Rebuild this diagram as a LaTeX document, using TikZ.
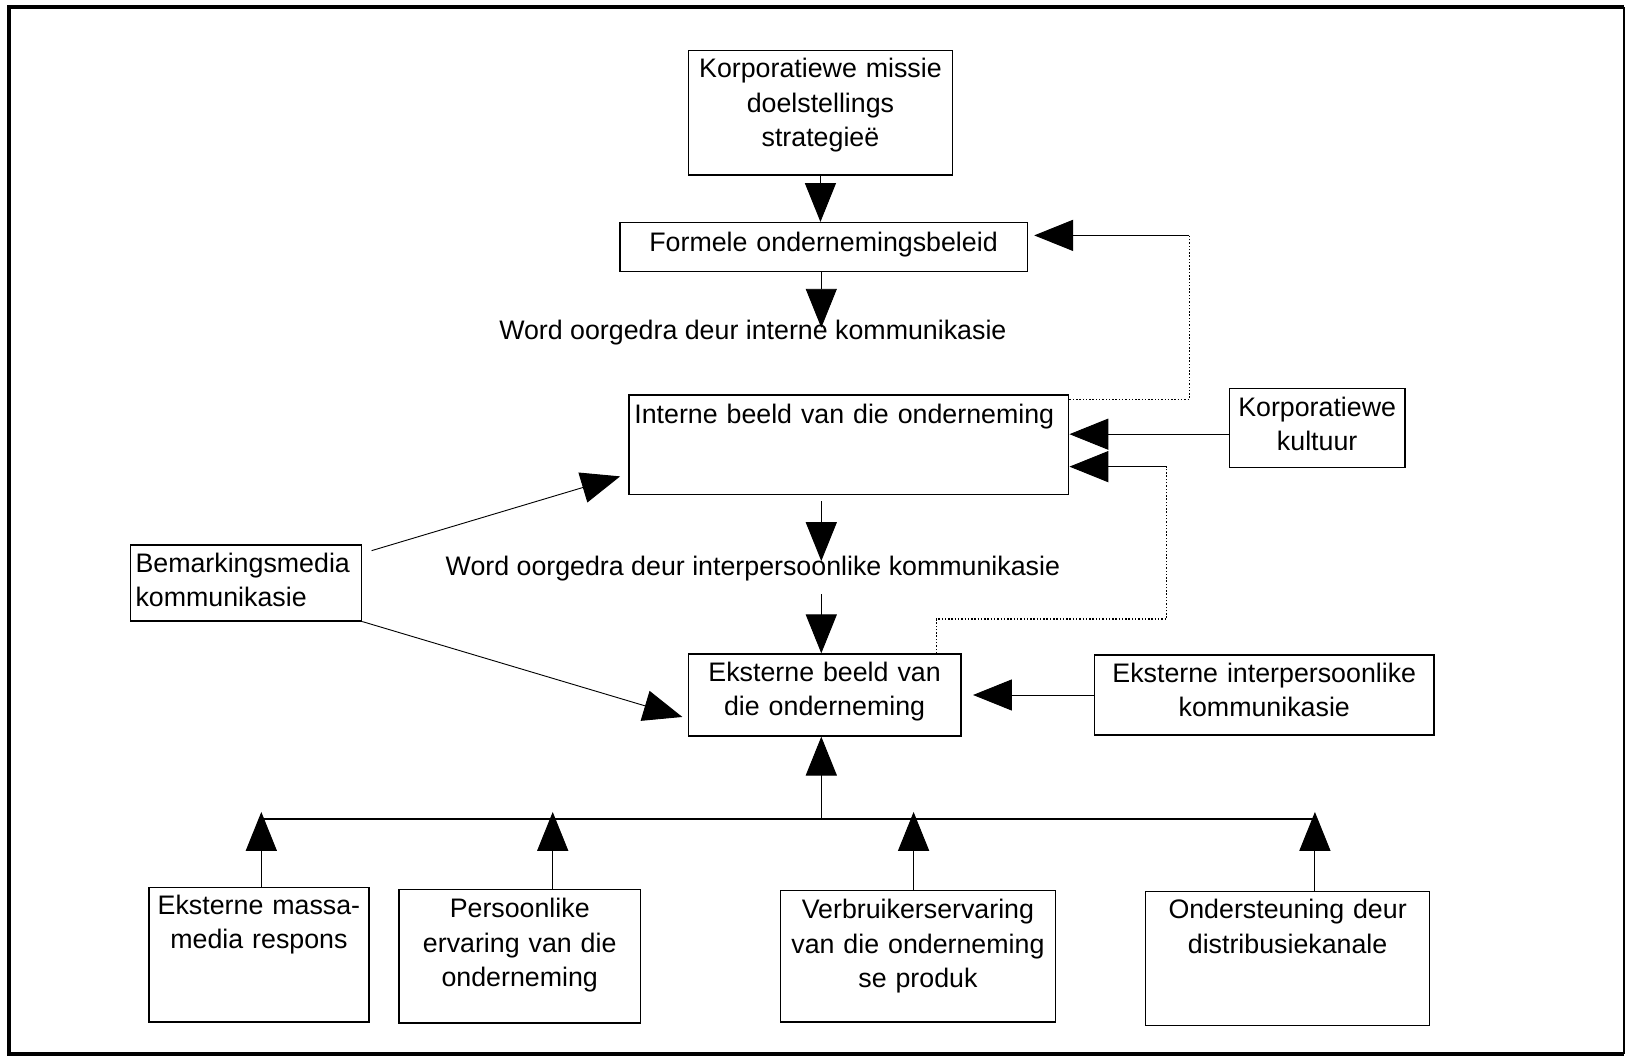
\documentclass[tikz,border=0pt]{standalone}
\usepackage{fontspec}
\setmainfont{Liberation Sans}
\usetikzlibrary{arrows.meta,calc}

\begin{document}
\begin{tikzpicture}[
  x=0.02cm, y=-0.02cm,
  every node/.style={font=\fontsize{14.7}{18.7}\selectfont},
  box/.style={draw, line width=0.8pt, anchor=north west, align=center,
              inner xsep=0pt, inner ysep=0pt},
  arr/.style={line width=0.5pt, -{Triangle[length=0.75cm, width=0.6cm]}},
  fb/.style={line width=0.8pt, densely dotted}
]

%% ---- Frame ---------------------------------------------------------
\useasboundingbox (0,0) rectangle (1568,1020);
\draw[line width=0.08cm] (1566,1016) -- (9,1016) -- (9,7) -- (1566,7);
\draw[line width=0.8pt] (1566,7) -- (1566,1016);

%% ---- Boxes (top and middle) ----------------------------------------
\node[box, text width=5.10cm, text height=0.53cm, text depth=1.87cm]
     (missie) at (663,48) {Korporatiewe missie\\doelstellings\\strategieë};
\node[box, text width=7.86cm, text height=0.55cm, text depth=0.39cm]
     (beleid) at (597,214) {Formele ondernemingsbeleid};
\node (oorgedraA) at (726,321) {Word oorgedra deur interne kommunikasie};
\node[box, align=left, inner xsep=0.1cm, text width=8.28cm,
      text height=0.55cm, text depth=1.37cm]
     (interne) at (606,380) {Interne beeld van die onderneming};
\node[box, text width=3.38cm, text height=0.53cm, text depth=0.99cm]
     (kultuur) at (1185,374) {Korporatiewe\\kultuur};
\node (oorgedraB) at (726,548) {Word oorgedra deur interpersoonlike kommunikasie};
\node[box, align=left, inner xsep=0.1cm, text width=4.26cm,
      text height=0.53cm, text depth=0.93cm]
     (bemark) at (125,525) {Bemarkingsmedia\\kommunikasie};
\node[box, text width=5.26cm, text height=0.53cm, text depth=1.05cm]
     (ekstern) at (663,630) {Eksterne beeld van\\die onderneming};
\node[box, text width=6.54cm, text height=0.53cm, text depth=1.01cm]
     (eksInter) at (1055,631) {Eksterne interpersoonlike\\kommunikasie};

%% ---- Boxes (bottom row) --------------------------------------------
\node[box, text width=4.24cm, text height=0.53cm, text depth=2.07cm]
     (massa) at (143,855) {Eksterne massa-\\media respons};
\node[box, text width=4.66cm, text height=0.55cm, text depth=2.03cm]
     (persoon) at (384,857) {Persoonlike\\ervaring van die\\onderneming};
\node[box, text width=5.30cm, text height=0.55cm, text depth=1.99cm]
     (verbruik) at (752,858) {Verbruikerservaring\\van die onderneming\\se produk};
\node[box, text width=5.48cm, text height=0.53cm, text depth=2.05cm]
     (distrib) at (1104,859) {Ondersteuning deur\\distribusiekanale};

%% ---- Main spine ----------------------------------------------------
\draw[arr] (missie.south) -- (missie.south |- beleid.north);
\coordinate (tipA) at (792,316);
\draw[arr] (beleid.south -| tipA) -- (tipA);
\coordinate (tipB) at (792,541);
\draw[arr] ([yshift=-0.12cm]interne.south -| tipB) -- (tipB);
\coordinate (fromB) at (792,573);
\draw[arr] (fromB) -- (fromB |- ekstern.north);

%% ---- Side inputs ---------------------------------------------------
\draw[arr] ([yshift=-0.12cm]kultuur.west) -- ([yshift=-0.12cm]kultuur.west -| interne.east);
\draw[arr, shorten >=0.22cm] (eksInter.west) -- (eksInter.west -| ekstern.east);
\draw[arr] ($(bemark.north east)+(9,6)$) -- ($(interne.south west)+(-8,-18)$);
\draw[arr] (bemark.south east) -- ($(ekstern.south west)+(-5,-19)$);

%% ---- Feedback loops (dotted) ---------------------------------------
\coordinate (fbA) at (1147,227);
\draw[fb] ([yshift=-0.1cm]interne.north east) -| (fbA);
\draw[arr] (fbA) -- ([xshift=0.12cm]fbA -| beleid.east);
\coordinate (fbB) at (1125,450);
\coordinate (fbC) at (903,597);
\draw[fb] (fbC |- ekstern.north) -- (fbC) -| (fbB);
\draw[arr] (fbB) -- (fbB -| interne.east);

%% ---- Bottom bus ----------------------------------------------------
\coordinate (busL) at (252,790);
\coordinate (busR) at (1268,790);
\coordinate (busM) at (792,790);
\draw[line width=0.8pt] (busL) -- (busR);
\draw[arr] (busM) -- (busM |- ekstern.south);
\foreach \x/\src in {252/massa, 533/persoon, 881/verbruik, 1268/distrib}
  \draw[arr] (\x,0 |- \src.north) -- (\x,783);

\end{tikzpicture}
\end{document}
